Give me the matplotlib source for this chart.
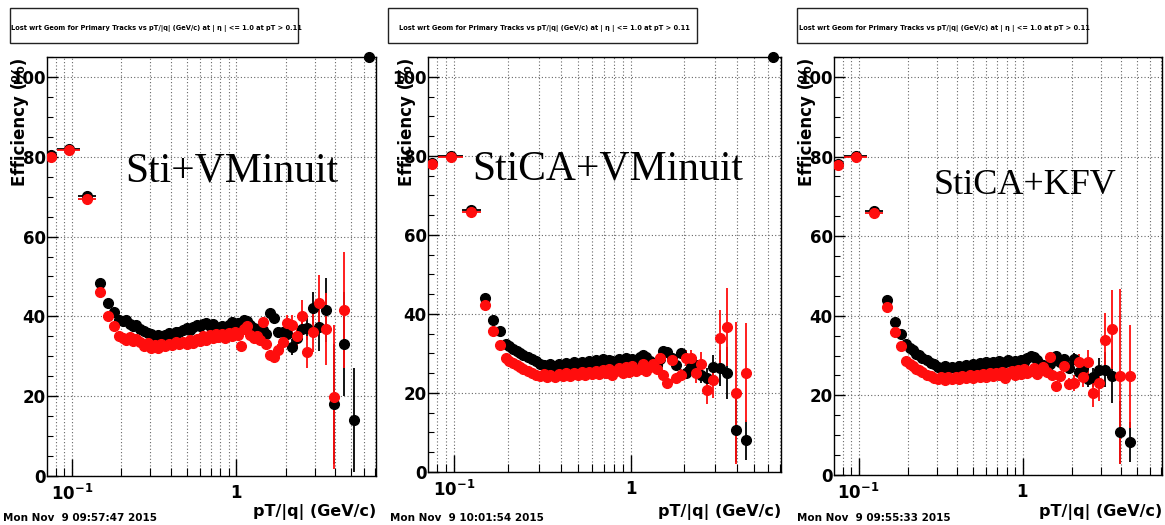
import numpy as np
import matplotlib
matplotlib.use("Agg")
import matplotlib.pyplot as plt
from matplotlib.patches import Rectangle
from matplotlib.ticker import LogLocator, MultipleLocator, FuncFormatter, NullFormatter

plt.rcParams['font.family'] = ['DejaVu Sans']
plt.rcParams['font.weight'] = 'bold'
plt.rcParams['mathtext.fontset'] = 'dejavusans'

nan = np.nan

# pT bins (GeV/c)
pt_low = [0.0745, 0.096, 0.124, 0.149, 0.166, 0.182]
pt_low_xlo = [0.0065, 0.015, 0.014, 0.0, 0.0, 0.0]
pt_low_xhi = [0.0065, 0.016, 0.017, 0.0, 0.0, 0.0]
pt_mid = [0.195, 0.205, 0.215, 0.225, 0.235, 0.245, 0.26, 0.275, 0.29, 0.305,
          0.32, 0.335, 0.35, 0.37, 0.39, 0.41, 0.43, 0.45, 0.475, 0.5,
          0.525, 0.55, 0.575, 0.6, 0.63, 0.66, 0.69, 0.72, 0.75, 0.78,
          0.82, 0.86, 0.9, 0.94, 0.98, 1.02, 1.07, 1.12, 1.17, 1.22,
          1.28, 1.34, 1.4, 1.46, 1.52]
pt_hi = [1.6, 1.7, 1.8, 1.92, 2.05, 2.2, 2.35, 2.5, 2.7, 2.92, 3.18, 3.5, 3.95, 4.5, 5.2]
pt_top = [6.4]
eff_top = [105.0]

# Sti+VMinuit
p1_blk_low = [80.5, 82.0, 70.2, 48.4, 43.4, 41.1]
p1_red_low = [80.0, 81.8, 69.4, 46.2, 40.1, 37.6]
p1_blk_mid = [39.2, 38.8, 39.0, 38.0, 37.6, 37.8, 36.9, 36.4, 35.8, 35.5,
              35.0, 35.3, 34.9, 35.4, 35.8, 35.5, 36.2, 36.0, 36.6, 37.0,
              36.7, 37.4, 37.8, 37.5, 38.0, 38.3, 37.6, 38.2, 37.4, 36.9,
              37.6, 37.0, 37.8, 38.6, 37.9, 38.4, 37.8, 39.0, 38.8, 37.8,
              37.0, 36.8, 36.0, 36.6, 35.5]
p1_red_mid = [35.2, 34.6, 34.2, 34.8, 33.8, 34.3, 33.5, 32.5, 33.4, 32.0,
              32.8, 32.2, 33.0, 32.6, 33.2, 32.8, 33.5, 33.0, 33.6, 33.2,
              34.0, 33.4, 34.4, 33.8, 35.0, 34.2, 35.4, 34.5, 35.6, 34.8,
              35.5, 34.6, 35.9, 35.2, 36.0, 35.4, 32.5, 36.8, 37.5, 35.4,
              34.5, 35.2, 34.2, 38.6, 33.0]
p1_blk_hi = [40.8, 39.5, 36.2, 36.0, 35.5, 32.3, 34.5, 36.9, 37.0, 42.1, 37.4, 41.6, 18.0, 33.1, 14.0]
p1_blk_hi_err = [1.0, 1.0, 1.2, 1.3, 1.5, 2.0, 2.0, 2.5, 3.0, 4.0, 6.0, 8.0, 15.0, 13.0, 13.0]
p1_red_hi = [30.3, 29.8, 31.5, 33.5, 38.4, 37.8, 35.1, 40.1, 31.1, 36.1, 43.4, 36.9, 19.8, 41.6, nan]
p1_red_hi_err = [1.2, 1.3, 1.5, 2.0, 2.0, 2.5, 2.5, 4.0, 4.0, 5.0, 7.0, 9.0, 18.0, 14.5, nan]

# StiCA+VMinuit
p2_blk_low = [78.2, 80.0, 66.3, 44.0, 38.5, 35.7]
p2_red_low = [78.0, 79.8, 65.8, 42.3, 35.7, 32.2]
p2_blk_mid = [32.5, 31.8, 31.2, 30.6, 30.0, 29.6, 29.0, 28.5, 28.0, 27.4,
              27.0, 26.8, 27.2, 26.9, 27.3, 26.8, 27.5, 27.1, 27.8, 27.2,
              27.9, 27.4, 28.2, 27.6, 28.3, 27.8, 28.5, 27.9, 28.4, 28.0,
              27.6, 28.6, 28.1, 28.9, 28.3, 28.6, 28.0, 29.2, 29.6, 29.0,
              28.2, 27.5, 27.0, 28.5, 30.5]
p2_red_mid = [28.8, 28.0, 27.6, 27.0, 26.6, 26.0, 25.5, 25.0, 24.6, 24.2,
              24.8, 24.0, 24.6, 24.1, 24.8, 24.3, 25.0, 24.4, 25.1, 24.5,
              25.3, 24.6, 25.4, 24.8, 25.6, 24.9, 25.8, 25.0, 26.0, 24.5,
              25.6, 26.2, 25.0, 26.5, 25.4, 26.8, 25.6, 26.0, 27.2, 25.5,
              26.6, 27.4, 26.0, 28.9, 24.6]
p2_blk_hi = [30.4, 28.9, 27.0, 30.1, 25.1, 26.5, 27.0, 24.6, 23.8, 26.6, 26.3, 25.1, 10.6, 8.1, nan]
p2_blk_hi_err = [1.0, 1.0, 1.2, 1.3, 1.5, 1.5, 2.0, 2.0, 2.5, 3.0, 4.5, 6.6, 8.0, 5.0, nan]
p2_red_hi = [22.5, 28.4, 23.8, 24.6, 28.9, 28.9, 25.1, 27.3, 20.8, 23.3, 33.9, 36.7, 20.0, 25.1, nan]
p2_red_hi_err = [1.0, 1.2, 1.3, 1.5, 2.0, 2.0, 2.5, 3.0, 3.5, 4.5, 7.0, 9.9, 18.0, 12.5, nan]

# StiCA+KFV
p3_blk_low = [78.1, 80.1, 66.3, 43.9, 38.4, 35.3]
p3_red_low = [77.9, 79.9, 65.8, 42.1, 35.8, 32.3]
p3_blk_mid = [32.8, 32.0, 31.3, 30.5, 30.1, 29.4, 28.9, 28.2, 27.8, 27.2,
              26.9, 27.3, 26.7, 27.1, 26.8, 27.4, 27.0, 27.6, 27.2, 27.9,
              27.4, 28.1, 27.6, 28.3, 27.8, 28.5, 28.0, 28.6, 27.9, 28.4,
              28.8, 28.1, 28.7, 28.3, 29.0, 28.5, 29.3, 29.8, 29.6, 28.8,
              28.0, 27.6, 27.2, 28.0, 29.5]
p3_red_mid = [28.6, 27.8, 27.4, 26.7, 26.3, 25.8, 25.2, 24.8, 24.3, 24.0,
              24.6, 23.9, 24.5, 24.0, 24.7, 24.2, 24.9, 24.3, 25.0, 24.4,
              25.2, 24.5, 25.3, 24.7, 25.5, 24.8, 25.7, 25.0, 25.9, 24.3,
              25.5, 26.1, 25.0, 26.4, 25.3, 26.7, 25.6, 26.2, 27.0, 25.4,
              26.5, 27.2, 25.8, 29.6, 25.0]
p3_blk_hi = [29.8, 28.5, 29.1, 27.0, 29.1, 25.8, 27.0, 24.0, 24.5, 26.5, 26.5, 24.8, 10.7, 8.2, nan]
p3_blk_hi_err = [1.0, 1.0, 1.2, 1.3, 1.5, 1.5, 2.0, 2.0, 2.5, 3.0, 4.5, 6.6, 8.0, 5.0, nan]
p3_red_hi = [22.3, 24.8, 27.5, 22.8, 23.0, 28.5, 24.5, 28.3, 20.7, 23.2, 33.8, 36.6, 24.8, 24.8, nan]
p3_red_hi_err = [1.0, 1.2, 1.3, 1.5, 2.0, 2.0, 2.5, 3.0, 3.5, 4.5, 7.0, 9.9, 22.0, 13.0, nan]

title = "Lost wrt Geom for Primary Tracks vs pT/|q| (GeV/c) at | \u03b7 | <= 1.0 at pT > 0.11"

W, H = 1165, 525
fig = plt.figure(figsize=(W / 100, H / 100), dpi=100)


def fx(px):
    return px / W


def fy(py):
    return 1 - py / H


def draw_series(ax, low, mid, hi, hi_err, color):
    x = pt_low + pt_mid + pt_hi
    y = low + mid + hi
    yerr = [0.8] * len(pt_low) + [0.4] * len(pt_mid) + hi_err
    xerr = [pt_low_xlo + [0.0] * (len(pt_mid) + len(pt_hi)),
            pt_low_xhi + [0.0] * (len(pt_mid) + len(pt_hi))]
    ax.errorbar(x, y, yerr=yerr, xerr=xerr, fmt='o', color=color, ms=7,
                elinewidth=1.3, capsize=0, zorder=3)


def xfmt(v, pos):
    if abs(v - 0.1) < 1e-6:
        return r'$\mathbf{10^{-1}}$'
    if abs(v - 1) < 1e-6:
        return r'$\mathbf{1}$'
    return ''


panels = [
    dict(box=(47, 376, 57, 476), tbox=(10, 298), name="Sti+VMinuit", npos=(125, 182), nsize=30,
         ylx=20, date="Mon Nov  9 09:57:47 2015", dx=3,
         data=(p1_blk_low, p1_blk_mid, p1_blk_hi, p1_blk_hi_err,
               p1_red_low, p1_red_mid, p1_red_hi, p1_red_hi_err), top=True),
    dict(box=(428, 781, 57, 472), tbox=(388, 697), name="StiCA+VMinuit", npos=(472, 180), nsize=30,
         ylx=407, date="Mon Nov  9 10:01:54 2015", dx=390,
         data=(p2_blk_low, p2_blk_mid, p2_blk_hi, p2_blk_hi_err,
               p2_red_low, p2_red_mid, p2_red_hi, p2_red_hi_err), top=True),
    dict(box=(834, 1162, 57, 475), tbox=(797, 1087), name="StiCA+KFV", npos=(934, 194), nsize=26,
         ylx=807, date="Mon Nov  9 09:55:33 2015", dx=797,
         data=(p3_blk_low, p3_blk_mid, p3_blk_hi, p3_blk_hi_err,
               p3_red_low, p3_red_mid, p3_red_hi, p3_red_hi_err), top=False),
]

for p in panels:
    l, r, t, b = p['box']
    ax = fig.add_axes([fx(l), fy(b), (r - l) / W, (b - t) / H])
    ax.set_xscale('log')
    ax.set_xlim(0.0708, 7.08)
    ax.set_ylim(0, 105)

    ax.xaxis.set_major_locator(LogLocator(base=10))
    ax.xaxis.set_minor_locator(LogLocator(base=10, subs=np.arange(2, 10)))
    ax.xaxis.set_major_formatter(FuncFormatter(xfmt))
    ax.xaxis.set_minor_formatter(NullFormatter())
    ax.yaxis.set_major_locator(MultipleLocator(20))
    ax.yaxis.set_minor_locator(MultipleLocator(5))

    ax.grid(True, which='both', axis='x', ls=(0, (1, 2)), color='#666666', lw=0.8)
    ax.grid(True, which='major', axis='y', ls=(0, (1, 2)), color='#666666', lw=0.8)
    ax.set_axisbelow(True)

    ax.tick_params(axis='x', which='major', direction='in', length=12, width=1, labelsize=12, pad=6)
    ax.tick_params(axis='x', which='minor', direction='in', length=6, width=0.8)
    ax.tick_params(axis='y', which='major', direction='in', length=8, width=1, labelsize=12, pad=1)
    ax.tick_params(axis='y', which='minor', direction='in', length=4, width=0.8)
    for s in ax.spines.values():
        s.set_linewidth(1)

    bl, bm, bh, be, rl, rm, rh, re = p['data']
    draw_series(ax, bl, bm, bh, be, 'black')
    draw_series(ax, rl, rm, rh, re, '#ff0d0d')
    if p['top']:
        ax.plot(pt_top, eff_top, 'o', color='black', ms=7, clip_on=False, zorder=4)

    # title box
    x0, x1 = p['tbox']
    fig.add_artist(Rectangle((fx(x0), fy(43)), (x1 - x0) / W, 35 / H, transform=fig.transFigure,
                             fill=False, ec='#222222', lw=1))
    fig.text(fx((x0 + x1) / 2 + 2), fy(28), title, ha='center', va='center', fontsize=4.8)

    # axis titles
    fig.text(fx(p['ylx']), fy(t + 1), "Efficiency (%)", rotation=90, ha='center', va='top', fontsize=12)
    fig.text(fx(r), fy(512), "pT/|q| (GeV/c)", ha='right', va='center', fontsize=11.5)
    fig.text(fx(p['dx']), fy(518), p['date'], ha='left', va='center', fontsize=7.5)

    # tracker/fitter label
    nx, ny = p['npos']
    fig.text(fx(nx), fy(ny), p['name'], family='Liberation Serif', weight='normal',
             fontsize=p['nsize'], ha='left', va='baseline')

fig.savefig('out.png', dpi=100)
